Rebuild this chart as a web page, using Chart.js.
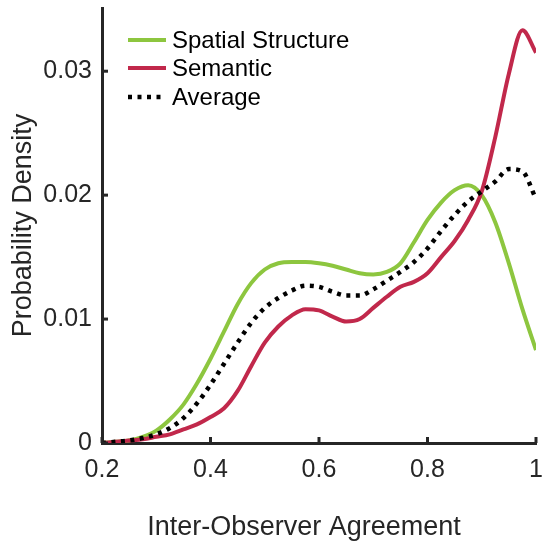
<!DOCTYPE html>
<html>
<head>
<meta charset="utf-8">
<script src="https://cdn.jsdelivr.net/npm/chart.js@4.4.0/dist/chart.umd.min.js"></script>
<style>
  html, body { margin: 0; padding: 0; background: #fff; }
  #wrap { width: 543px; height: 558px; }
</style>
</head>
<body>
<div id="wrap"><canvas id="densityChart" width="543" height="558"></canvas></div>
<script>
// x positions (inter-observer agreement)
const agreement = [0.2, 0.225, 0.25, 0.275, 0.3, 0.325, 0.35, 0.375, 0.4, 0.425, 0.45, 0.475,
  0.5, 0.525, 0.55, 0.575, 0.6, 0.625, 0.65, 0.675, 0.7, 0.725, 0.75, 0.775,
  0.8, 0.825, 0.85, 0.875, 0.9, 0.925, 0.95, 0.975, 1.0];

const spatial = [0, 0.0001, 0.0002, 0.0005, 0.0010, 0.0019, 0.0031, 0.0048, 0.0068, 0.0090, 0.0112, 0.0129,
  0.0140, 0.0145, 0.0146, 0.0146, 0.0145, 0.0143, 0.0140, 0.0137, 0.0136, 0.0138, 0.0145, 0.0162,
  0.0180, 0.0194, 0.0204, 0.0208, 0.0200, 0.0178, 0.0145, 0.0108, 0.0075];

const semantic = [0, 0.0001, 0.0002, 0.0003, 0.0005, 0.0007, 0.0011, 0.0015, 0.0021, 0.0028, 0.0042, 0.0062,
  0.0081, 0.0094, 0.0103, 0.0108, 0.0107, 0.0102, 0.0098, 0.0100, 0.0109, 0.0118, 0.0126, 0.0130,
  0.0137, 0.0150, 0.0163, 0.0180, 0.0203, 0.0247, 0.0298, 0.0333, 0.0315];

const average = [0, 0.0001, 0.0002, 0.0004, 0.0007, 0.0012, 0.0020, 0.0032, 0.0047, 0.0064, 0.0081, 0.0097,
  0.0109, 0.0117, 0.0123, 0.0127, 0.0126, 0.0122, 0.0119, 0.0119, 0.0124, 0.0131, 0.0138, 0.0146,
  0.0157, 0.0171, 0.0184, 0.0195, 0.0203, 0.0211, 0.0221, 0.0219, 0.0197];

const xTicks = [0.2, 0.4, 0.6, 0.8, 1];
const yTicks = [0, 0.01, 0.02, 0.03];

const FONT = "'Liberation Sans', Arial, Helvetica, sans-serif";
const AXIS_COLOR = '#262626';

function toPoints(ys) {
  return ys.map((y, i) => ({x: agreement[i], y: y}));
}

// MATLAB style ticks: short marks pointing into the plot
const inwardTicks = {
  id: 'inwardTicks',
  afterDatasetsDraw(chart) {
    const {ctx, chartArea, scales} = chart;
    ctx.save();
    ctx.strokeStyle = AXIS_COLOR;
    ctx.lineWidth = 3;
    xTicks.forEach(v => {
      const px = scales.x.getPixelForValue(v);
      ctx.beginPath();
      ctx.moveTo(px, chartArea.bottom);
      ctx.lineTo(px, chartArea.bottom - 6);
      ctx.stroke();
    });
    yTicks.forEach(v => {
      const py = scales.y.getPixelForValue(v);
      ctx.beginPath();
      ctx.moveTo(chartArea.left, py);
      ctx.lineTo(chartArea.left + 6, py);
      ctx.stroke();
    });
    ctx.restore();
  }
};

// legend drawn inside the axes, top left
const insideLegend = {
  id: 'insideLegend',
  afterDraw(chart) {
    const {ctx} = chart;
    const x0 = 128, x1 = 166, textX = 172;
    const rows = [40, 68, 97];
    ctx.save();
    ctx.font = '24px ' + FONT;
    ctx.textBaseline = 'middle';
    ctx.fillStyle = '#000';
    chart.data.datasets.forEach((ds, i) => {
      ctx.strokeStyle = ds.borderColor;
      ctx.lineWidth = ds.borderWidth;
      ctx.setLineDash(ds.borderDash || []);
      ctx.beginPath();
      ctx.moveTo(x0, rows[i]);
      ctx.lineTo(x1, rows[i]);
      ctx.stroke();
      ctx.setLineDash([]);
      ctx.fillText(ds.label, textX, rows[i] + 1);
    });
    ctx.restore();
  }
};

const ctx = document.getElementById('densityChart').getContext('2d');
const chart = new Chart(ctx, {
  type: 'line',
  data: {
    datasets: [
      {label: 'Spatial Structure', data: toPoints(spatial), borderColor: '#8dc63f', borderWidth: 4, order: 3},
      {label: 'Semantic', data: toPoints(semantic), borderColor: '#c1284b', borderWidth: 4, order: 2},
      {label: 'Average', data: toPoints(average), borderColor: '#000000', borderWidth: 4.5, borderDash: [4, 5.5], order: 1}
    ]
  },
  options: {
    responsive: false,
    animation: false,
    events: [],
    layout: {padding: {top: 8, right: 7, left: 0, bottom: 0}},
    elements: {
      point: {radius: 0},
      line: {cubicInterpolationMode: 'monotone', fill: false}
    },
    plugins: {
      legend: {display: false},
      tooltip: {enabled: false}
    },
    scales: {
      x: {
        type: 'linear',
        min: 0.2,
        max: 1,
        afterBuildTicks: axis => { axis.ticks = xTicks.map(v => ({value: v})); },
        afterFit: axis => {
          axis.height = 115;
          axis.paddingLeft = 0;
          axis.paddingRight = 0;
        },
        grid: {display: false, drawTicks: false},
        border: {display: true, color: AXIS_COLOR, width: 3},
        ticks: {
          color: AXIS_COLOR,
          font: {family: FONT, size: 25},
          padding: 12,
          maxRotation: 0,
          callback: v => String(+v.toFixed(1))
        },
        title: {
          display: true,
          text: 'Inter-Observer Agreement    ',
          color: AXIS_COLOR,
          font: {family: FONT, size: 27},
          padding: {top: 0, bottom: 14}
        }
      },
      y: {
        min: 0,
        max: 0.0351,
        afterBuildTicks: axis => { axis.ticks = yTicks.map(v => ({value: v})); },
        afterFit: axis => {
          axis.width = 102;
          axis.paddingTop = 0;
          axis.paddingBottom = 0;
        },
        grid: {display: false, drawTicks: false},
        border: {display: true, color: AXIS_COLOR, width: 3},
        ticks: {
          color: AXIS_COLOR,
          font: {family: FONT, size: 25},
          padding: 10,
          callback: v => String(+v.toFixed(2))
        },
        title: {
          display: true,
          text: 'Probability Density',
          color: AXIS_COLOR,
          font: {family: FONT, size: 27},
          padding: {top: 7, bottom: 0}
        }
      }
    }
  },
  plugins: [inwardTicks, insideLegend]
});
</script>
</body>
</html>
